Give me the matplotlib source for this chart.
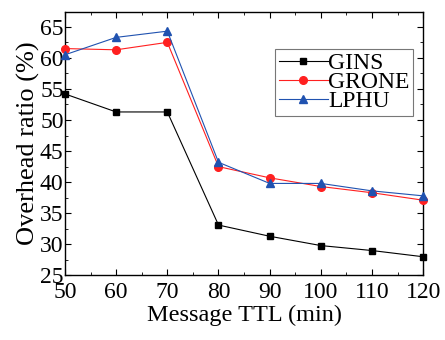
import matplotlib
matplotlib.use('Agg')
import matplotlib.pyplot as plt
from matplotlib.ticker import MultipleLocator

plt.rcParams['font.family'] = 'Liberation Serif'

ttl = [50, 60, 70, 80, 90, 100, 110, 120]
gins = [54.2, 51.3, 51.3, 33.1, 31.3, 29.8, 29.0, 28.0]
grone = [61.5, 61.3, 62.5, 42.5, 40.7, 39.3, 38.3, 37.1]
lphu = [60.5, 63.3, 64.3, 43.2, 39.8, 39.8, 38.6, 37.8]

fig = plt.figure(figsize=(4.45, 3.4), dpi=100)
ax = fig.add_axes([0.146, 0.19, 0.805, 0.775])

ax.plot(ttl, gins, color='black', lw=0.8, marker='s', ms=5, label='GINS', clip_on=False, zorder=3)
ax.plot(ttl, grone, color='#ff2020', lw=0.8, marker='o', ms=5.5, label='GRONE', clip_on=False, zorder=3)
ax.plot(ttl, lphu, color='#2052b0', lw=0.8, marker='^', ms=6, label='LPHU', clip_on=False, zorder=3)

ax.set_xlim(50, 120)
ax.set_ylim(25, 67.4)
ax.xaxis.set_major_locator(MultipleLocator(10))
ax.xaxis.set_minor_locator(MultipleLocator(5))
ax.yaxis.set_major_locator(MultipleLocator(5))
ax.yaxis.set_minor_locator(MultipleLocator(2.5))
ax.tick_params(which='both', direction='in', top=True, right=True, labelsize=17)
ax.tick_params(axis='x', pad=5)
ax.tick_params(axis='y', pad=1)
ax.tick_params(which='major', length=4)
ax.tick_params(which='minor', length=2)
for s in ax.spines.values():
    s.set_linewidth(1.0)

ax.set_xlabel('Message TTL (min)', fontsize=17.5, labelpad=1)
ax.set_ylabel('Overhead ratio (%)', fontsize=19, labelpad=0)

leg = ax.legend(loc='upper right', bbox_to_anchor=(0.972, 0.86), fontsize=17, frameon=True,
                fancybox=False, edgecolor='#555555', handlelength=2.1, handletextpad=0.0,
                borderpad=0.15, labelspacing=-0.1, borderaxespad=0)
leg.get_frame().set_linewidth(0.8)

plt.savefig('out.png', dpi=100)
